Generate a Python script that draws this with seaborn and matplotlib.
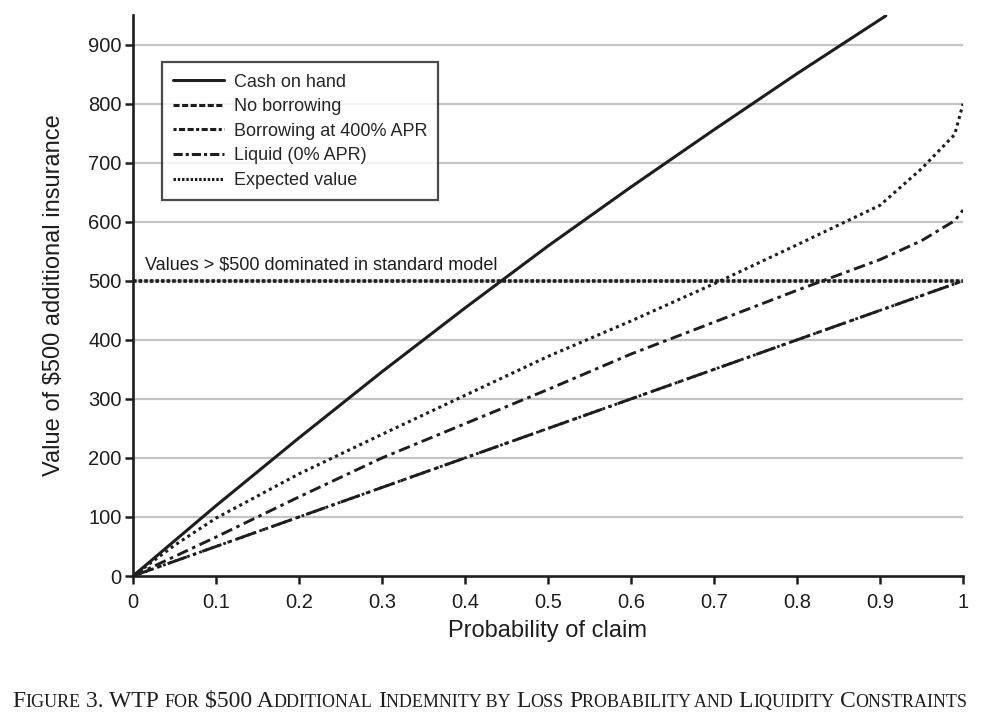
import matplotlib
matplotlib.use("Agg")
import matplotlib.pyplot as plt
from matplotlib.lines import Line2D
import seaborn as sns
import pandas as pd

# valores
cash_p = [0, 0.1, 0.2, 0.3, 0.4, 0.5, 0.6, 0.7, 0.8, 0.907]
cash_v = [0, 119, 234, 346, 454, 559, 659, 756, 851, 949]

prob = [0, 0.05, 0.1, 0.2, 0.3, 0.4, 0.5, 0.6, 0.7, 0.8, 0.9, 0.95, 0.99, 1.0]
no_borrow = [0, 52, 98, 173, 240, 306, 372, 432, 495, 561, 628, 690, 748, 800]
borrow_400 = [0, 33, 66, 134, 200, 258, 316, 376, 430, 484, 536, 568, 602, 620]
liquid = [0, 25, 50, 100, 150, 200, 250, 300, 350, 400, 450, 475, 495, 500]
expected = [0, 25, 50, 100, 150, 200, 250, 300, 350, 400, 450, 475, 495, 500]

limite = 500
yticks = [0, 100, 200, 300, 400, 500, 600, 700, 800, 900]
xticks = [0, 0.1, 0.2, 0.3, 0.4, 0.5, 0.6, 0.7, 0.8, 0.9, 1.0]
xtick_labels = ["0", "0.1", "0.2", "0.3", "0.4", "0.5", "0.6", "0.7", "0.8", "0.9", "1"]

legend_labels = ["Cash on hand", "No borrowing", "Borrowing at 400% APR",
                 "Liquid (0% APR)", "Expected value"]

sns.set_style("white")
plt.rcParams['font.family'] = ['Liberation Sans', 'DejaVu Sans']

cor = "#1e1e1e"
fig = plt.figure(figsize=(9.96, 7.24), dpi=100)
ax = fig.add_axes([0.1335, 0.2044, 0.8334, 0.7746])

# grade horizontal
for v in yticks[1:]:
    ax.axhline(v, color="#c4c4c4", lw=1.6, zorder=0)

sns.lineplot(x=prob, y=expected, ax=ax, color=cor, lw=2.0, linestyle=(0, (1, 1.3)), zorder=2)
sns.lineplot(x=prob, y=liquid, ax=ax, color=cor, lw=2.1, linestyle=(0, (7, 2.2, 1.2, 2.2)), zorder=3)
sns.lineplot(x=prob, y=borrow_400, ax=ax, color=cor, lw=2.1, linestyle=(0, (4, 1.6, 1.2, 1.6)), zorder=3)
sns.lineplot(x=prob, y=no_borrow, ax=ax, color=cor, lw=2.2, linestyle=(0, (1, 1.2)), zorder=3)
sns.lineplot(x=cash_p, y=cash_v, ax=ax, color=cor, lw=2.2, zorder=4)

ax.axhline(limite, color=cor, lw=2.6, linestyle=(0, (1, 0.55)), zorder=3)
ax.text(0.015, limite + 12, "Values > $500 dominated in standard model",
        fontsize=13, color=cor, va="bottom", ha="left")

ax.set_xlim(0, 1)
ax.set_ylim(0, 950)
ax.set_yticks(yticks)
ax.set_xticks(xticks)
ax.set_xticklabels(xtick_labels)
ax.tick_params(direction="out", length=6, width=1.8, labelsize=14.5, colors=cor,
               left=True, bottom=True)
ax.tick_params(axis="x", pad=6)
ax.tick_params(axis="y", pad=2)
for s in ["top", "right"]:
    ax.spines[s].set_visible(False)
for s in ["left", "bottom"]:
    ax.spines[s].set_linewidth(1.9)
    ax.spines[s].set_color(cor)

ax.set_xlabel("Probability of claim", fontsize=17, color=cor, labelpad=6)
ax.set_ylabel("Value of $500 additional insurance", fontsize=17, color=cor, labelpad=17)

handles = [
    Line2D([], [], color=cor, lw=2.2),
    Line2D([], [], color=cor, lw=2.2, linestyle=(0, (2, 0.8))),
    Line2D([], [], color=cor, lw=2.2, linestyle=(0, (1, 0.8, 2, 0.8, 2, 0.8))),
    Line2D([], [], color=cor, lw=2.2, linestyle=(0, (3, 1, 1, 1))),
    Line2D([], [], color=cor, lw=2.2, linestyle=(0, (0.8, 0.6))),
]
leg = ax.legend(handles, legend_labels, loc="upper left", bbox_to_anchor=(0.035, 0.916),
                fontsize=13, frameon=True, fancybox=False, handlelength=2.8,
                handletextpad=0.55, borderpad=0.62, labelspacing=0.42, borderaxespad=0)
leg.get_frame().set_edgecolor(cor)
leg.get_frame().set_linewidth(1.6)

# legenda da figura em versalete
pecas = [("F", 17, 0), ("IGURE", 13, 0), ("3. WTP", 17, 4), ("FOR", 13, 4),
         ("$500 A", 17, 4), ("DDITIONAL", 13, 0), ("I", 17, 4), ("NDEMNITY BY", 13, 0),
         ("L", 17, 4), ("OSS", 13, 0), ("P", 17, 4), ("ROBABILITY AND", 13, 0),
         ("L", 17, 4), ("IQUIDITY", 13, 0), ("C", 17, 4), ("ONSTRAINTS", 13, 0)]
y0 = 1 - 707 / 724
prev = fig.text(0.012, y0, pecas[0][0], fontsize=pecas[0][1], family="Liberation Serif",
                va="baseline", color=cor)
for txt, tam, gap in pecas[1:]:
    prev = ax.annotate(
        txt, xy=(1, y0), xycoords=(prev, "figure fraction"),
        xytext=(gap, 0), textcoords="offset points",
        fontsize=tam, family="Liberation Serif", va="baseline", ha="left", color=cor,
        annotation_clip=False)

fig.savefig("out.png", dpi=100)
